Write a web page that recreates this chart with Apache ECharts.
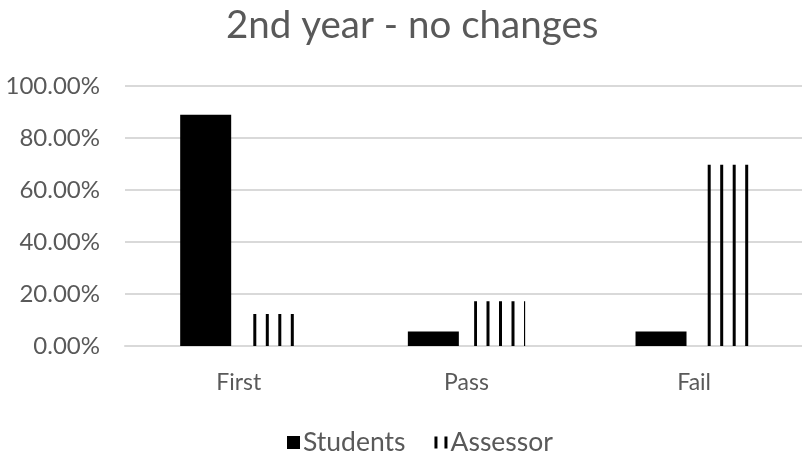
<!DOCTYPE html>
<html>
<head>
<meta charset="utf-8">
<script src="https://cdn.jsdelivr.net/npm/echarts@6/dist/echarts.min.js"></script>
<style>
  html, body { margin: 0; padding: 0; background: #ffffff; overflow: hidden; }
  /* the plot area runs a few pixels past the right edge of the window */
  #chart { width: 808px; height: 455px; }
</style>
</head>
<body>
<div id="chart"></div>
<script>
// Grade shares in the 2nd year, percent of responses
const categories = ['First', 'Pass', 'Fail'];
const studentsValues = [88.9, 5.6, 5.6];
const assessorValues = [12.3, 17.2, 69.7];
const seriesNames = ['Students', 'Assessor'];
const titleText = '2nd year - no changes';

const FONT = 'Lato, "Open Sans", sans-serif';
const TEXT_COLOR = '#595959';
const GRID_COLOR = '#d9d9d9';

// Vertical hatch fill (wide vertical lines), one canvas per bar so each
// bar gets its own stripe offset.
function stripePattern(phase) {
  const c = document.createElement('canvas');
  c.width = 25;
  c.height = 10;
  const g = c.getContext('2d');
  g.fillStyle = '#000000';
  for (let x = phase - 25; x < 25; x += 12.5) {
    g.fillRect(x, 0, 3, 10);
  }
  return { image: c, repeat: 'repeat' };
}
const stripePhases = [3.3, 24.0, 7.7];

const chart = echarts.init(document.getElementById('chart'), null, { renderer: 'canvas' });

chart.setOption({
  backgroundColor: '#ffffff',
  animation: false,
  graphic: [{
    type: 'text',
    left: 226,
    top: 6,
    style: {
      text: titleText,
      font: '38.5px ' + FONT,
      fill: TEXT_COLOR
    }
  }],
  legend: {
    left: 282,
    top: 424,
    itemGap: 29,
    itemWidth: 13,
    itemHeight: 13,
    textStyle: { fontFamily: FONT, fontSize: 26.5, color: TEXT_COLOR, padding: [0, 0, 0, -2] },
    data: [
      { name: seriesNames[0], icon: 'rect', itemStyle: { color: '#000000' } },
      { name: seriesNames[1], icon: 'path://M0,0h3v12h-3zM10,0h3v12h-3z', itemStyle: { color: '#000000' } }
    ]
  },
  grid: { left: 125, right: 0, top: 86, bottom: 109 },
  xAxis: {
    type: 'category',
    data: categories,
    axisLine: { show: true, lineStyle: { color: GRID_COLOR, width: 2 } },
    axisTick: { show: false },
    axisLabel: { fontFamily: FONT, fontSize: 23, color: TEXT_COLOR, margin: 25 }
  },
  yAxis: {
    type: 'value',
    min: 0,
    max: 100,
    interval: 20,
    axisLine: { show: false },
    axisTick: { show: false },
    splitLine: { lineStyle: { color: GRID_COLOR, width: 2 } },
    axisLabel: {
      fontFamily: FONT, fontSize: 24, color: TEXT_COLOR, margin: 25,
      formatter: v => v.toFixed(2) + '%'
    }
  },
  series: [
    {
      name: seriesNames[0],
      type: 'bar',
      data: studentsValues,
      barWidth: 51,
      barGap: '30%',
      itemStyle: { color: '#000000' }
    },
    {
      name: seriesNames[1],
      type: 'bar',
      barWidth: 51,
      barGap: '30%',
      data: assessorValues.map((v, i) => ({
        value: v,
        itemStyle: { color: stripePattern(stripePhases[i]) }
      }))
    }
  ]
});
</script>
</body>
</html>
